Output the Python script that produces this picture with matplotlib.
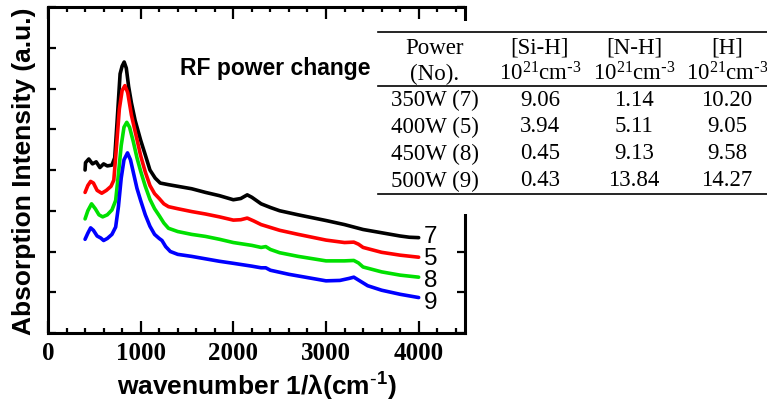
import matplotlib
matplotlib.use("Agg")
import matplotlib.pyplot as plt
from matplotlib.patches import Rectangle
from matplotlib.lines import Line2D
from matplotlib.ticker import MultipleLocator

plt.rcParams['mathtext.default'] = 'regular'

# ---------------- data ----------------
wn_7 = [400, 405, 440, 480, 520, 560, 600, 640, 690, 720, 746, 778, 800, 822, 845, 870, 900, 940,
        1000, 1050, 1100, 1157, 1211, 1300, 1400, 1550, 1700, 1850, 2000, 2080, 2150, 2200, 2300,
        2400, 2500, 2700, 3000, 3200, 3300, 3400, 3600, 3800, 3900, 4000]
abs_7 = [4.0, 4.18, 4.27, 4.15, 4.2, 4.06, 4.15, 4.1, 4.12, 4.3, 5.2, 6.36, 6.55, 6.65, 6.5, 6.05, 5.65, 5.22,
         4.73, 4.37, 4.0, 3.8, 3.68, 3.64, 3.6, 3.54, 3.45, 3.37, 3.27, 3.3, 3.39, 3.33, 3.17,
         3.08, 3.0, 2.9, 2.76, 2.66, 2.6, 2.54, 2.46, 2.38, 2.35, 2.34]

wn_5 = [400, 430, 460, 490, 530, 580, 630, 680, 710, 740, 770, 800, 830, 860, 900, 950,
        1000, 1050, 1100, 1150, 1200, 1250, 1300, 1400, 1550, 1700, 1850, 2000, 2080, 2150, 2220,
        2300, 2500, 2700, 3000, 3200, 3300, 3350, 3400, 3600, 3800, 4000]
abs_5 = [3.45, 3.62, 3.72, 3.68, 3.5, 3.43, 3.5, 3.6, 3.75, 4.6, 5.5, 5.95, 6.07, 5.9, 5.35, 4.85,
         4.35, 3.95, 3.62, 3.42, 3.3, 3.17, 3.1, 3.05, 2.98, 2.92, 2.85, 2.77, 2.78, 2.82, 2.75,
         2.66, 2.52, 2.42, 2.28, 2.22, 2.23, 2.18, 2.1, 1.98, 1.91, 1.86]

wn_8 = [400, 430, 470, 510, 550, 590, 640, 690, 730, 760, 790, 820, 850, 880, 920, 960,
        1000, 1050, 1100, 1150, 1200, 1250, 1300, 1400, 1550, 1700, 1850, 2000, 2200, 2300, 2350,
        2400, 2500, 2700, 3000, 3200, 3300, 3350, 3400, 3600, 3800, 4000]
abs_8 = [2.8, 3.0, 3.17, 3.05, 2.9, 2.85, 2.9, 3.02, 3.25, 3.9, 4.6, 5.05, 5.17, 5.05, 4.7, 4.3,
         3.97, 3.6, 3.28, 3.05, 2.88, 2.7, 2.57, 2.49, 2.42, 2.37, 2.3, 2.22, 2.15, 2.1, 2.12,
         2.05, 1.97, 1.88, 1.77, 1.77, 1.78, 1.72, 1.62, 1.5, 1.42, 1.37]

wn_9 = [400, 430, 460, 490, 530, 570, 600, 640, 690, 730, 760, 790, 820, 858, 890, 920, 960,
        1000, 1050, 1100, 1150, 1200, 1230, 1270, 1320, 1400, 1550, 1700, 1850, 2000, 2200, 2300,
        2350, 2400, 2600, 2800, 3000, 3150, 3250, 3300, 3350, 3450, 3600, 3800, 4000]
abs_9 = [2.3, 2.45, 2.58, 2.52, 2.38, 2.33, 2.27, 2.32, 2.42, 2.6, 3.1, 3.8, 4.25, 4.42, 4.25, 3.95, 3.55,
         3.25, 2.9, 2.62, 2.42, 2.32, 2.27, 2.12, 2.0, 1.93, 1.88, 1.82, 1.76, 1.71, 1.64, 1.6,
         1.6, 1.54, 1.44, 1.36, 1.28, 1.29, 1.34, 1.37, 1.3, 1.16, 1.05, 0.95, 0.87]

sample_labels = ['7', '5', '8', '9']
label_y = [2.37, 1.83, 1.31, 0.76]
series_colors = ['#000000', '#ff0000', '#00e000', '#0000ff']

table_header1 = ['Power', '[Si-H]', '[N-H]', '[H]']
table_header2 = ['(No).', r'10$^{21}$cm$^{\text{-}3}$', r'10$^{21}$cm$^{\text{-}3}$',
                 r'10$^{21}$cm$^{\text{-}3}$']
table_power = ['350W (7)', '400W (5)', '450W (8)', '500W (9)']
table_SiH = ['9.06', '3.94', '0.45', '0.43']
table_NH = ['1.14', '5.11', '9.13', '13.84']
table_H = ['10.20', '9.05', '9.58', '14.27']

# ---------------- figure ----------------
W, H = 767, 402
fig = plt.figure(figsize=(W / 100, H / 100), dpi=100)
ax = fig.add_axes([48 / W, 1 - 334 / H, 417 / W, 326 / H])

series = [(wn_7, abs_7), (wn_5, abs_5), (wn_8, abs_8), (wn_9, abs_9)]
for (x, y), c in zip(series, series_colors):
    ax.plot(x, y, color=c, lw=2.6, solid_joinstyle='round', solid_capstyle='round')

for lab, yy in zip(sample_labels, label_y):
    ax.text(4130, yy, lab, ha='center', va='center', fontsize=17.5,
            family='Liberation Sans')

ax.set_xlim(0, 4500)
ax.set_ylim(0, 8)
ax.xaxis.set_major_locator(MultipleLocator(1000))
ax.xaxis.set_minor_locator(MultipleLocator(200))
ax.yaxis.set_major_locator(MultipleLocator(1))
ax.set_yticklabels([])
ax.tick_params(axis='both', which='both', direction='in', top=True, right=True, width=1.6)
ax.tick_params(axis='x', which='major', length=8.5, pad=6)
ax.tick_params(axis='x', which='minor', length=3.8)
ax.tick_params(axis='y', which='major', length=6, labelleft=False)
for lbl in ax.get_xticklabels():
    lbl.set_fontfamily('Liberation Serif')
    lbl.set_fontweight('bold')
    lbl.set_fontsize(18)
for s in ax.spines.values():
    s.set_linewidth(2.2)

ax.set_xlabel(r'wavenumber 1/λ(cm$^{\text{-}1}$)', fontsize=19, fontweight='bold',
              family='Liberation Sans', labelpad=4)
ax.set_ylabel('Absorption Intensity (a.u.)', fontsize=19, fontweight='bold',
              family='Liberation Sans', labelpad=9)

fig.text(180 / W, 1 - 68 / H, 'RF power change', fontsize=16.5, fontweight='bold',
         family='Liberation Sans', ha='left', va='center')

# ---------------- table overlay ----------------
def fx(px):
    return px / W

def fy(py):
    return 1 - py / H

fig.add_artist(Rectangle((fx(377), fy(215)), fx(767) - fx(377), (215 - 22) / H,
                         transform=fig.transFigure, facecolor='white', edgecolor='none',
                         zorder=5))
for ly in [33, 87, 195]:
    fig.add_artist(Line2D([fx(378), fx(767)], [fy(ly), fy(ly)], transform=fig.transFigure,
                          color='black', lw=1.2, zorder=6))

col_x = [435, 540, 634, 727]
tkw = dict(family='Liberation Serif', fontsize=16.5, ha='center', va='center', zorder=7)
for cx, h1, h2 in zip(col_x, table_header1, table_header2):
    fig.text(fx(cx), fy(48), h1, **tkw)
    fig.text(fx(cx), fy(74), h2, **tkw)
row_y = [100, 127, 154, 181]
for i, ry in enumerate(row_y):
    for cx, col in zip(col_x, [table_power, table_SiH, table_NH, table_H]):
        fig.text(fx(cx), fy(ry), col[i], **tkw)

fig.savefig('out.png', dpi=100)
